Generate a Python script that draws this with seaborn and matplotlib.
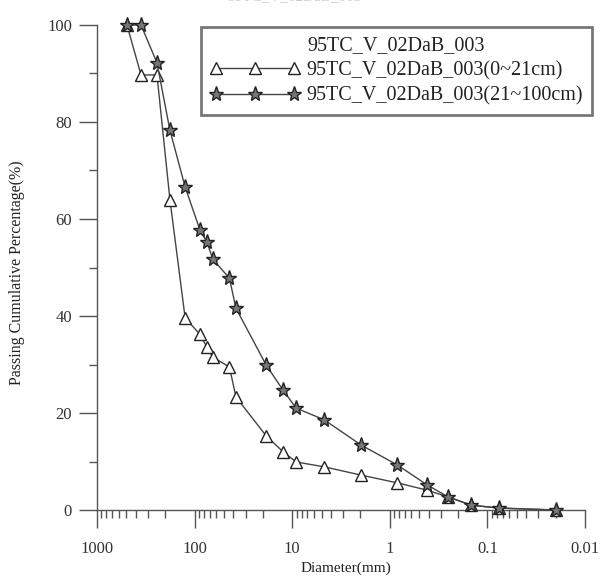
import matplotlib
matplotlib.use("Agg")
import matplotlib.pyplot as plt
import seaborn as sns
import pandas as pd
import numpy as np

# Sieve diameters (mm) shared by both samples
diameter_mm = [493, 354, 243, 179, 125, 88, 75, 65, 44, 37.7, 18.5, 12.4,
               9.1, 4.7, 1.97, 0.84, 0.416, 0.253, 0.147, 0.076, 0.020]
# Cumulative passing percentage, 0~21cm layer
passing_upper = [100, 89.7, 89.7, 64.0, 39.6, 36.2, 33.6, 31.5, 29.5, 23.3,
                 15.3, 12.0, 9.9, 8.9, 7.2, 5.6, 4.1, 2.7, 1.0, 0.4, 0.0]
# Cumulative passing percentage, 21~100cm layer
passing_lower = [100, 100, 92.2, 78.3, 66.6, 57.7, 55.3, 51.7, 47.8, 41.6,
                 29.9, 24.7, 21.0, 18.6, 13.4, 9.3, 5.2, 2.7, 1.0, 0.4, 0.0]

site = "95TC_V_02DaB_003"
label_upper = "95TC_V_02DaB_003(0~21cm)"
label_lower = "95TC_V_02DaB_003(21~100cm)"
x_ticks = [1000, 100, 10, 1, 0.1, 0.01]
x_tick_labels = ["1000", "100", "10", "1", "0.1", "0.01"]
y_ticks = [0, 20, 40, 60, 80, 100]

df_upper = pd.DataFrame({"d": diameter_mm, "p": passing_upper})
df_lower = pd.DataFrame({"d": diameter_mm, "p": passing_lower})

sns.set_theme(style="ticks")
plt.rcParams["font.family"] = ["Liberation Serif", "DejaVu Serif"]
plt.rcParams["text.color"] = "#222222"
plt.rcParams["axes.labelcolor"] = "#222222"

fig = plt.figure(figsize=(6.01, 5.78), dpi=100)
ax = fig.add_axes([97 / 601, 68 / 578, 488 / 601, 485 / 578])

line_color = "#444444"
sns.lineplot(data=df_upper, x="d", y="p", ax=ax, sort=False, color=line_color,
             lw=1.0, marker="^", markersize=9, markerfacecolor="white",
             markeredgecolor="#222222", markeredgewidth=1.0,
             label=label_upper, clip_on=False, zorder=3)
sns.lineplot(data=df_lower, x="d", y="p", ax=ax, sort=False, color=line_color,
             lw=1.0, marker="*", markersize=11, markerfacecolor="#767676",
             markeredgecolor="#222222", markeredgewidth=1.0,
             label=label_lower, clip_on=False, zorder=4)

ax.set_xscale("log")
ax.set_xlim(1000, 0.01)
ax.set_ylim(0, 100)
ax.set_xticks(x_ticks)
ax.set_xticklabels(x_tick_labels)
ax.set_yticks(y_ticks)
ax.yaxis.set_minor_locator(matplotlib.ticker.MultipleLocator(10))
ax.xaxis.set_minor_locator(matplotlib.ticker.LogLocator(base=10, subs=np.arange(2, 10)))
ax.xaxis.set_minor_formatter(matplotlib.ticker.NullFormatter())

ax.tick_params(axis="both", which="major", direction="out", length=13,
               width=1.0, color="#555555", labelsize=12, labelcolor="#333333")
ax.tick_params(axis="both", which="minor", direction="out", length=6,
               width=1.0, color="#555555")
ax.tick_params(axis="x", which="major", pad=9)
ax.tick_params(axis="y", which="major", pad=5)

sns.despine(ax=ax)
for side in ("left", "bottom"):
    ax.spines[side].set_color("#555555")
    ax.spines[side].set_linewidth(1.0)
ax.grid(False)

ax.set_xlabel("Diameter(mm)", fontsize=11, labelpad=0)
ax.set_ylabel("Passing Cumulative Percentage(%)", fontsize=11.5)
ax.xaxis.set_label_coords(0.51, -0.106)
ax.yaxis.set_label_coords(-0.147, 0.49)

leg = ax.legend(loc="upper right", numpoints=3, handlelength=4.5,
                handletextpad=0.3, title=site, fontsize=14.5, title_fontsize=14.5,
                frameon=True, fancybox=False, borderpad=0.45, labelspacing=0.3,
                borderaxespad=0)
leg.get_frame().set_edgecolor("#555555")
leg.get_frame().set_linewidth(2.0)
leg.set_bbox_to_anchor((592 / 601, 1 - 27 / 578), transform=fig.transFigure)

# faint chart title running off the top edge
fig.text(0.49, 1.005, site, ha="center", va="center", fontsize=11, color="#cccccc")

fig.savefig("out.png", dpi=100)
